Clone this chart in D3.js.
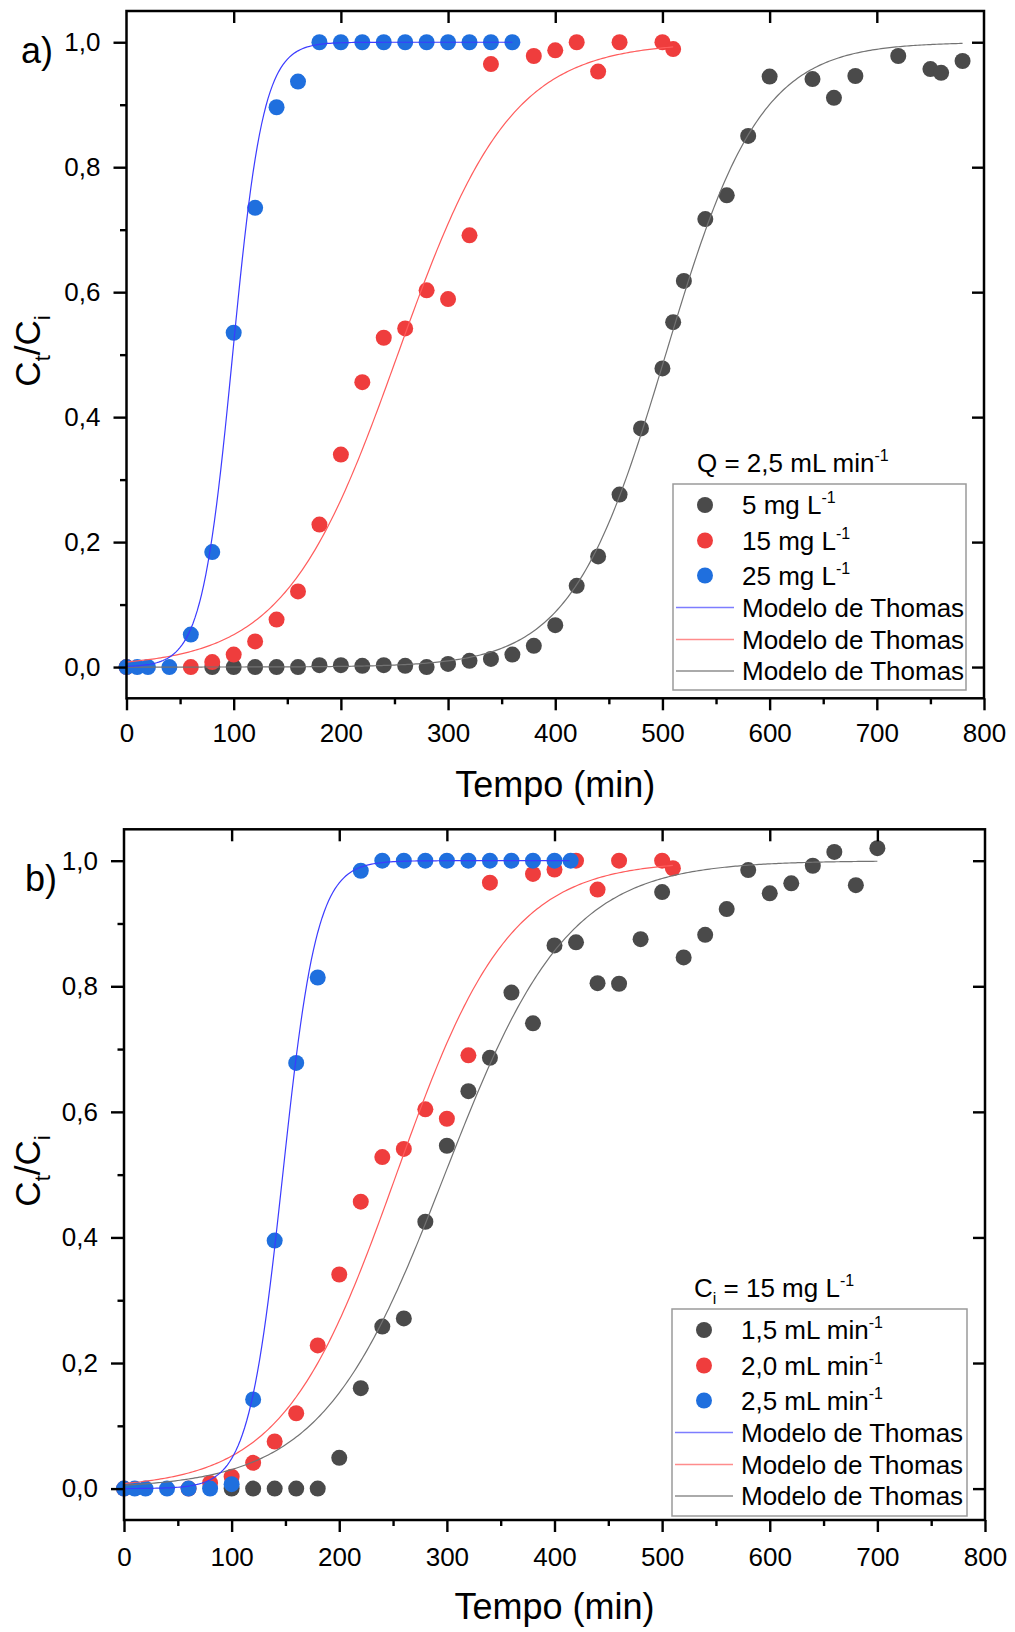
<!DOCTYPE html>
<html>
<head>
<meta charset="utf-8">
<script src="https://cdn.jsdelivr.net/npm/d3@7"></script>
<style>
  body { margin: 0; background: #fff; }
  svg { display: block; }
  text { font-family: "Liberation Sans", Arial, sans-serif; fill: #000; }
</style>
</head>
<body>
<svg id="chart" width="1015" height="1632"></svg>
<script>
// ---------- axis ticks ----------
const xMajor = [0, 100, 200, 300, 400, 500, 600, 700, 800];
const xMinor = [50, 150, 250, 350, 450, 550, 650, 750];
const yMajor = [0, 0.2, 0.4, 0.6, 0.8, 1.0];
const yMinor = [0.1, 0.3, 0.5, 0.7, 0.9];
const yTickLabels = ["0,0", "0,2", "0,4", "0,6", "0,8", "1,0"];

// ---------- panel a: Q = 2,5 mL/min, three inlet concentrations ----------
const tA5 = [80, 100, 120, 140, 160, 180, 200, 220, 240, 260, 280, 300, 320, 340, 360, 380, 400, 420, 440, 460, 480, 500, 510, 520, 540, 560, 580, 600, 640, 660, 680, 720, 750, 760, 780];
const cA5 = [0, 0, 0, 0, 0, 0.003, 0.003, 0.002, 0.003, 0.002, 0, 0.005, 0.010, 0.013, 0.020, 0.034, 0.067, 0.130, 0.177, 0.276, 0.382, 0.478, 0.552, 0.618, 0.717, 0.755, 0.850, 0.945, 0.941, 0.911, 0.946, 0.978, 0.957, 0.951, 0.970];

const tA15 = [0, 60, 80, 100, 120, 140, 160, 180, 200, 220, 240, 260, 280, 300, 320, 340, 380, 400, 420, 440, 460, 500, 510];
const cA15 = [0, 0, 0.008, 0.020, 0.041, 0.076, 0.121, 0.228, 0.340, 0.456, 0.527, 0.542, 0.603, 0.589, 0.691, 0.965, 0.978, 0.987, 1.0, 0.953, 1.0, 1.0, 0.989];

const tA25 = [0, 10, 20, 40, 60, 80, 100, 120, 140, 160, 180, 200, 220, 240, 260, 280, 300, 320, 340, 360];
const cA25 = [0, 0, 0, 0, 0.052, 0.184, 0.535, 0.735, 0.896, 0.937, 1.0, 1.0, 1.0, 1.0, 1.0, 1.0, 1.0, 1.0, 1.0, 1.0];

// ---------- panel b: Ci = 15 mg/L, three flow rates ----------
const tB15 = [100, 120, 140, 160, 180, 200, 220, 240, 260, 280, 300, 320, 340, 360, 380, 400, 420, 440, 460, 480, 500, 520, 540, 560, 580, 600, 620, 640, 660, 680, 700];
const cB15 = [0, 0, 0, 0, 0, 0.049, 0.160, 0.258, 0.271, 0.425, 0.546, 0.633, 0.686, 0.790, 0.741, 0.865, 0.870, 0.805, 0.804, 0.875, 0.950, 0.846, 0.882, 0.923, 0.985, 0.948, 0.964, 0.992, 1.014, 0.961, 1.020];

const tB20 = [0, 60, 80, 100, 120, 140, 160, 180, 200, 220, 240, 260, 280, 300, 320, 340, 380, 400, 420, 440, 460, 500, 510];
const cB20 = [0, 0, 0.009, 0.019, 0.041, 0.075, 0.120, 0.228, 0.341, 0.457, 0.528, 0.541, 0.604, 0.589, 0.690, 0.965, 0.979, 0.986, 1.0, 0.954, 1.0, 1.0, 0.988];

const tB25 = [0, 10, 20, 40, 60, 80, 100, 120, 140, 160, 180, 220, 240, 260, 280, 300, 320, 340, 360, 380, 400, 415];
const cB25 = [0, 0, 0, 0, 0, 0, 0.007, 0.142, 0.395, 0.678, 0.814, 0.984, 1.0, 1.0, 1.0, 1.0, 1.0, 1.0, 1.0, 1.0, 1.0, 1.0];

// ---------- Thomas model fits: C/C0 = 1 / (1 + exp(k (t50 - t))) ----------
const fitA5  = { t50: 503, k: 0.0227, tEnd: 780 };
const fitA15 = { t50: 253, k: 0.019,  tEnd: 510 };
const fitA25 = { t50: 99,  k: 0.070,  tEnd: 360 };
const fitB15 = { t50: 298, k: 0.0175, tEnd: 700 };
const fitB20 = { t50: 253, k: 0.019,  tEnd: 510 };
const fitB25 = { t50: 147.5, k: 0.063, tEnd: 415 };

const COL = {
  black: { dot: "#4a4a4a", line: "#737373", key: "#8e8e8e" },
  red:   { dot: "#ef3d3d", line: "#ff5c5c", key: "#ff8c8c" },
  blue:  { dot: "#1f6fde", line: "#3b3bff", key: "#7d7dff" }
};

const panels = [
  {
    tag: "a)", tagX: 21, tagY: 63,
    xRange: [126.5, 984], yRange: [698.3, 11],
    tickLabelY: 742, titleY: 797, yTitleCenter: 351,
    series: [
      { t: tA5,  c: cA5,  fit: fitA5,  col: COL.black },
      { t: tA15, c: cA15, fit: fitA15, col: COL.red },
      { t: tA25, c: cA25, fit: fitA25, col: COL.blue }
    ],
    legend: {
      x: 673, y: 484, w: 293, h: 206, titleX: 697, titleY: 472,
      title: [["Q = 2,5 mL min"], ["-1", "sup"]],
      items: [
        [["5 mg L"], ["-1", "sup"]],
        [["15 mg L"], ["-1", "sup"]],
        [["25 mg L"], ["-1", "sup"]]
      ]
    }
  },
  {
    tag: "b)", tagX: 25, tagY: 891,
    xRange: [124, 985], yRange: [1520, 829.3],
    tickLabelY: 1566, titleY: 1619, yTitleCenter: 1171,
    series: [
      { t: tB15, c: cB15, fit: fitB15, col: COL.black },
      { t: tB20, c: cB20, fit: fitB20, col: COL.red },
      { t: tB25, c: cB25, fit: fitB25, col: COL.blue }
    ],
    legend: {
      x: 672, y: 1309, w: 295, h: 207, titleX: 694, titleY: 1297,
      title: [["C"], ["i", "sub"], [" = 15 mg L"], ["-1", "sup"]],
      items: [
        [["1,5 mL min"], ["-1", "sup"]],
        [["2,0 mL min"], ["-1", "sup"]],
        [["2,5 mL min"], ["-1", "sup"]]
      ]
    }
  }
];

const modelLabel = "Modelo de Thomas";
const svg = d3.select("#chart");

// writes text parts with super/subscripts into a text element
function richText(sel, parts, size) {
  const small = Math.round(size * 0.62);
  let shift = 0;
  parts.forEach(([str, kind]) => {
    let target = 0;
    if (kind === "sup") target = -size * 0.42;
    if (kind === "sub") target = size * 0.28;
    sel.append("tspan").text(str)
      .attr("dy", target - shift)
      .style("font-size", (kind ? small : size) + "px");
    shift = target;
  });
}

function thomas(fit, t) {
  return 1 / (1 + Math.exp(fit.k * (fit.t50 - t)));
}

panels.forEach(p => {
  const x = d3.scaleLinear().domain([0, 800]).range(p.xRange);
  const y = d3.scaleLinear().domain([-0.05, 1.05]).range(p.yRange);
  const [x0, x1] = p.xRange;
  const [yb, yt] = p.yRange;
  const g = svg.append("g");

  // data markers
  p.series.forEach(s => {
    g.append("g").selectAll("circle")
      .data(s.t.map((t, i) => [t, s.c[i]]))
      .join("circle")
      .attr("cx", d => x(d[0]))
      .attr("cy", d => y(d[1]))
      .attr("r", 8)
      .attr("fill", s.col.dot);
  });

  // Thomas model curves
  const line = d3.line().x(d => x(d[0])).y(d => y(d[1]));
  p.series.forEach(s => {
    const pts = d3.range(0, s.fit.tEnd + 0.01, 2).map(t => [t, thomas(s.fit, t)]);
    g.append("path").attr("d", line(pts))
      .attr("fill", "none").attr("stroke", s.col.line).attr("stroke-width", 1.2);
  });

  // axes
  const styleAxis = a => {
    a.select(".domain").remove();
    a.selectAll("line").attr("stroke", "#000").attr("stroke-width", 2.4);
    a.selectAll("text").style("font-size", "26px").attr("font-family", null);
  };
  const bottom = g.append("g").attr("transform", `translate(0,${yb})`)
    .call(d3.axisBottom(x).tickValues(xMajor).tickSize(12).tickSizeOuter(0).tickPadding(15).tickFormat(d3.format("d")));
  styleAxis(bottom);
  bottom.selectAll("text").attr("dy", null).attr("y", p.tickLabelY - yb);
  styleAxis(g.append("g").attr("transform", `translate(0,${yb})`)
    .call(d3.axisBottom(x).tickValues(xMinor).tickSize(6).tickSizeOuter(0).tickFormat("")));
  styleAxis(g.append("g").attr("transform", `translate(0,${yt})`)
    .call(d3.axisBottom(x).tickValues(xMajor.slice(1, -1)).tickSize(12).tickSizeOuter(0).tickFormat("")));

  const left = g.append("g").attr("transform", `translate(${x0},0)`)
    .call(d3.axisLeft(y).tickValues(yMajor).tickSize(13).tickSizeOuter(0).tickPadding(13)
      .tickFormat((d, i) => yTickLabels[i]));
  styleAxis(left);
  styleAxis(g.append("g").attr("transform", `translate(${x0},0)`)
    .call(d3.axisLeft(y).tickValues(yMinor).tickSize(6.5).tickSizeOuter(0).tickFormat("")));
  styleAxis(g.append("g").attr("transform", `translate(${x1},0)`)
    .call(d3.axisLeft(y).tickValues(yMajor).tickSize(12).tickSizeOuter(0).tickFormat("")));

  // frame
  g.append("rect").attr("x", x0).attr("y", yt).attr("width", x1 - x0).attr("height", yb - yt)
    .attr("fill", "none").attr("stroke", "#000").attr("stroke-width", 2.5);

  // titles
  g.append("text").attr("x", (x0 + x1) / 2).attr("y", p.titleY)
    .attr("text-anchor", "middle").style("font-size", "36px").text("Tempo (min)");
  const yt1 = g.append("text")
    .attr("transform", `translate(40,${p.yTitleCenter}) rotate(-90)`)
    .attr("text-anchor", "middle").style("font-size", "35px");
  richText(yt1, [["C"], ["t", "sub"], ["/C"], ["i", "sub"]], 35);
  g.append("text").attr("x", p.tagX).attr("y", p.tagY).style("font-size", "36px").text(p.tag);

  // legend
  const L = p.legend;
  const lt = g.append("text").attr("x", L.titleX).attr("y", L.titleY).style("font-size", "26px");
  richText(lt, L.title, 26);
  g.append("rect").attr("x", L.x).attr("y", L.y).attr("width", L.w).attr("height", L.h)
    .attr("fill", "#fff").attr("stroke", "#9a9a9a").attr("stroke-width", 1.5);
  const rowOffsets = [21, 56.5, 91.5, 123.5, 155.5, 187];
  p.series.forEach((s, i) => {
    const cy = L.y + rowOffsets[i];
    g.append("circle").attr("cx", L.x + 32).attr("cy", cy).attr("r", 8).attr("fill", s.col.dot);
    const tx = g.append("text").attr("x", L.x + 69).attr("y", cy + 9.3).style("font-size", "26px");
    richText(tx, L.items[i], 26);
  });
  // model rows: blue, red, black
  [2, 1, 0].forEach((si, j) => {
    const cy = L.y + rowOffsets[3 + j];
    g.append("line").attr("x1", L.x + 3).attr("x2", L.x + 61).attr("y1", cy).attr("y2", cy)
      .attr("stroke", p.series[si].col.key).attr("stroke-width", 1.5);
    g.append("text").attr("x", L.x + 69).attr("y", cy + 9.3).style("font-size", "26px").text(modelLabel);
  });
});
</script>
</body>
</html>
